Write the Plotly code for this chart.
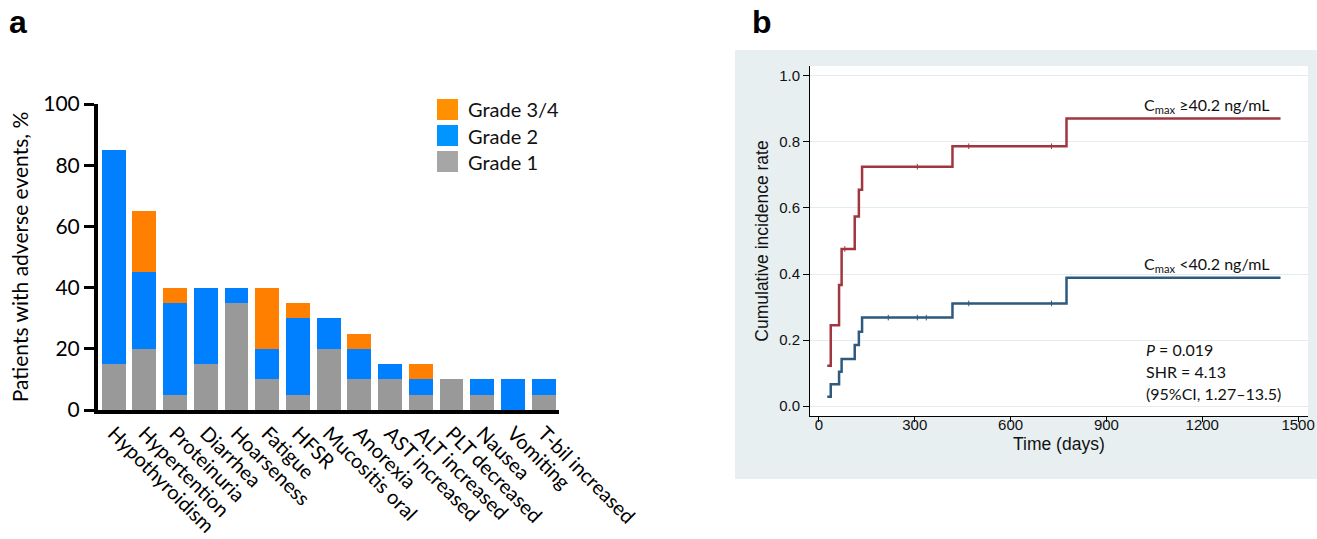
import plotly.graph_objects as go

# ---------------- data: panel a ----------------
categories = ["Hypothyroidism", "Hypertention", "Proteinuria", "Diarrhea", "Hoarseness",
              "Fatigue", "HFSR", "Mucositis oral", "Anorexia", "AST increased",
              "ALT increased", "PLT decreased", "Nausea", "Vomiting", "T-bil increased"]
grade1 = [15, 20, 5, 15, 35, 10, 5, 20, 10, 10, 5, 10, 5, 0, 5]
grade2 = [70, 25, 30, 25, 5, 10, 25, 10, 10, 5, 5, 0, 5, 10, 5]
grade34 = [0, 20, 5, 0, 0, 20, 5, 0, 5, 0, 5, 0, 0, 0, 0]
left_yticks = [0, 20, 40, 60, 80, 100]
legend_labels = ["Grade 3/4", "Grade 2", "Grade 1"]

# ---------------- data: panel b ----------------
time_days = [26, 37, 63, 71, 112, 125, 135, 418, 775, 1445]
cir_high = [0.122, 0.245, 0.367, 0.476, 0.574, 0.655, 0.725, 0.787, 0.871, 0.871]
cir_low = [0.028, 0.066, 0.104, 0.143, 0.185, 0.225, 0.268, 0.311, 0.389, 0.389]
censor_high_t = [81, 308, 469, 728]
censor_high_y = [0.476, 0.725, 0.787, 0.787]
censor_low_t = [217, 308, 336, 469, 728]
censor_low_y = [0.268, 0.268, 0.268, 0.311, 0.311]
right_xticks = [0, 300, 600, 900, 1200, 1500]
right_yticks = [0.0, 0.2, 0.4, 0.6, 0.8, 1.0]

W, H = 1317, 539
def px(x): return x / W
def py(y): return 1 - y / H

C_GRAY, C_BLUE, C_ORANGE = "#999999", "#0080FF", "#FF8000"
C_RED, C_NAVY = "#A0363F", "#2D5A7E"
CAL = "Lato, 'Open Sans', sans-serif"
ARIAL = "'Liberation Sans', Arial, sans-serif"

fig = go.Figure()
for vals, col, name in [(grade1, C_GRAY, "Grade 1"), (grade2, C_BLUE, "Grade 2"),
                        (grade34, C_ORANGE, "Grade 3/4")]:
    fig.add_trace(go.Bar(x=categories, y=vals, name=name, marker=dict(color=col, line=dict(width=0)),
                         xaxis="x", yaxis="y", showlegend=False))

fig.add_trace(go.Scatter(x=time_days, y=cir_high, mode="lines", line=dict(color=C_RED, width=2.5, shape="hv"),
                         xaxis="x2", yaxis="y2", showlegend=False, name="Cmax ≥40.2 ng/mL"))
fig.add_trace(go.Scatter(x=time_days, y=cir_low, mode="lines", line=dict(color=C_NAVY, width=2.5, shape="hv"),
                         xaxis="x2", yaxis="y2", showlegend=False, name="Cmax <40.2 ng/mL"))
fig.add_trace(go.Scatter(x=censor_high_t, y=censor_high_y, mode="markers",
                         marker=dict(symbol="line-ns", size=4, line=dict(color=C_RED, width=1)),
                         xaxis="x2", yaxis="y2", showlegend=False))
fig.add_trace(go.Scatter(x=censor_low_t, y=censor_low_y, mode="markers",
                         marker=dict(symbol="line-ns", size=4, line=dict(color=C_NAVY, width=1)),
                         xaxis="x2", yaxis="y2", showlegend=False))

shapes = [
    dict(type="rect", xref="paper", yref="paper", x0=px(735), x1=1.0, y0=py(479), y1=py(50),
         fillcolor="#E8EFF1", line=dict(width=0), layer="below"),
    dict(type="rect", xref="paper", yref="paper", x0=px(810), x1=px(1308), y0=py(416), y1=py(66),
         fillcolor="white", line=dict(width=0), layer="below"),
]
legend_cols = ["#FF9100", "#0095FF", "#A6A6A6"]
annotations = []
for i, (lab, col) in enumerate(zip(legend_labels, legend_cols)):
    top = 99 + i * 26
    shapes.append(dict(type="rect", xref="paper", yref="paper", x0=px(437), x1=px(458),
                       y0=py(top + 21), y1=py(top), fillcolor=col, line=dict(width=0)))
    annotations.append(dict(text=lab, xref="paper", yref="paper", x=px(466), y=py(top + 10.5),
                            xanchor="left", yanchor="middle", showarrow=False,
                            font=dict(family=CAL, size=20, color="#111")))

annotations += [
    dict(text="<b>a</b>", xref="paper", yref="paper", x=px(18), y=py(22), xanchor="center", yanchor="middle",
         showarrow=False, font=dict(family=ARIAL, size=32, color="black")),
    dict(text="<b>b</b>", xref="paper", yref="paper", x=px(762), y=py(22), xanchor="center", yanchor="middle",
         showarrow=False, font=dict(family=ARIAL, size=32, color="black")),
    dict(text="C<sub>max</sub> ≥40.2 ng/mL", xref="paper", yref="paper", x=px(1142), y=py(106),
         xanchor="left", yanchor="middle", showarrow=False, font=dict(family=CAL, size=16, color="#111")),
    dict(text="C<sub>max</sub> <40.2 ng/mL", xref="paper", yref="paper", x=px(1142), y=py(264),
         xanchor="left", yanchor="middle", showarrow=False, font=dict(family=CAL, size=16, color="#111")),
    dict(text="<i>P</i> = 0.019", xref="paper", yref="paper", x=px(1144), y=py(349),
         xanchor="left", yanchor="middle", showarrow=False, font=dict(family=CAL, size=16, color="#111")),
    dict(text="SHR = 4.13", xref="paper", yref="paper", x=px(1144), y=py(371),
         xanchor="left", yanchor="middle", showarrow=False, font=dict(family=CAL, size=16, color="#111")),
    dict(text="(95%CI, 1.27–13.5)", xref="paper", yref="paper", x=px(1144), y=py(393),
         xanchor="left", yanchor="middle", showarrow=False, font=dict(family=CAL, size=16, color="#111")),
    dict(text="Time (days)", xref="paper", yref="paper", x=px(1059), y=py(444),
         xanchor="center", yanchor="middle", showarrow=False, font=dict(family=ARIAL, size=17.5, color="#111")),
]

fig.update_layout(
    width=W, height=H, margin=dict(l=0, r=0, t=0, b=0, autoexpand=False),
    paper_bgcolor="white", plot_bgcolor="rgba(0,0,0,0)",
    barmode="stack", bargap=0.22, showlegend=False,
    shapes=shapes, annotations=annotations,
    xaxis=dict(domain=[px(98), px(559)], anchor="y", type="category", range=[-0.51, 14.5],
               automargin=False,
               showline=True, linewidth=4, linecolor="black", ticks="", tickangle=45,
               tickfont=dict(family=CAL, size=20, color="black"), showgrid=False, zeroline=False),
    yaxis=dict(domain=[py(410), py(104)], anchor="x", range=[0, 100], tickvals=left_yticks,
               automargin=False,
               showline=True, linewidth=4, linecolor="black", ticks="outside", ticklen=10, tickwidth=3,
               tickcolor="black", tickfont=dict(family=CAL, size=21, color="black"),
               showgrid=False, zeroline=False,
               title=dict(text="Patients with adverse events, %", font=dict(family=CAL, size=21, color="black"),
                          standoff=10)),
    xaxis2=dict(domain=[px(810), px(1308)], anchor="y2", range=[-28, 1531], tickvals=right_xticks,
                automargin=False, ticklabelstandoff=-10,
                showline=True, linewidth=1, linecolor="black", ticks="outside", ticklen=5, tickwidth=1,
                tickcolor="black", tickfont=dict(family=ARIAL, size=15, color="#111"),
                showgrid=False, zeroline=False),
    yaxis2=dict(domain=[py(416), py(66)], anchor="x2", range=[-0.03, 1.03], tickvals=right_yticks,
                automargin=False,
                tickformat=".1f", showline=True, linewidth=1, linecolor="black", ticks="outside",
                ticklen=6, tickwidth=1, tickcolor="black", tickfont=dict(family=ARIAL, size=15, color="#111"),
                showgrid=True, gridcolor="#E2EBEE", gridwidth=1, zeroline=False,
                title=dict(text="Cumulative incidence rate", font=dict(family=ARIAL, size=17.5, color="#111"),
                           standoff=6)),
)

fig.write_html(
    "out.html",
    config={"displayModeBar": False},
    post_script="document.body.style.margin='0';document.body.style.overflow='hidden';"
                "document.documentElement.style.overflow='hidden';",
)
